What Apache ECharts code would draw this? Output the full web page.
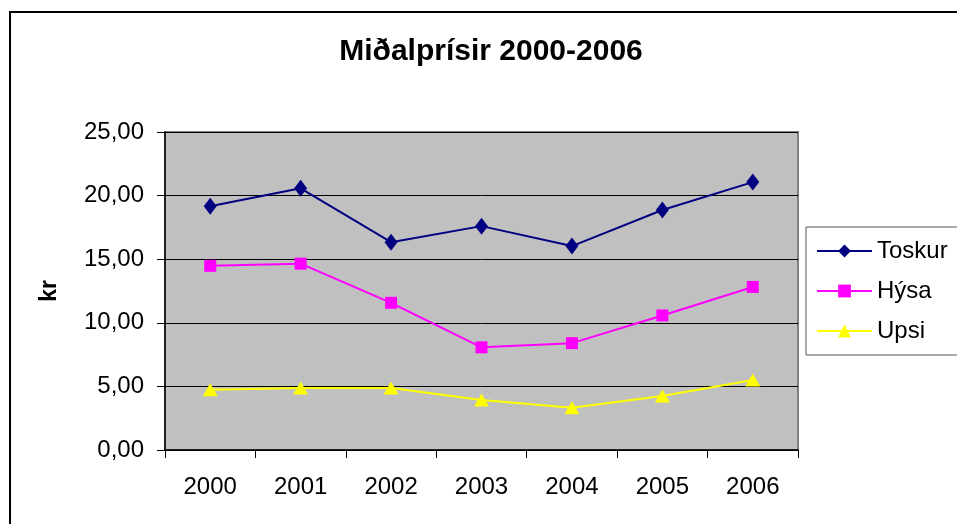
<!DOCTYPE html>
<html>
<head>
<meta charset="utf-8">
<script src="https://cdn.jsdelivr.net/npm/echarts@6/dist/echarts.min.js"></script>
<style>
  html, body { margin: 0; padding: 0; background: #fff; }
  #container { width: 957px; height: 524px; }
</style>
</head>
<body>
<div id="container"></div>
<script>
var years = ['2000', '2001', '2002', '2003', '2004', '2005', '2006'];
var toskur = [19.17, 20.57, 16.34, 17.6, 16.03, 18.87, 21.06];
var hysa = [14.48, 14.65, 11.57, 8.07, 8.4, 10.58, 12.82];
var upsi = [4.74, 4.87, 4.87, 3.93, 3.32, 4.24, 5.5];

var dom = document.getElementById("container");
var myChart = echarts.init(dom);
var font = 'Arial, "Liberation Sans", sans-serif';

function fmt(v) {
    return v.toFixed(2).replace('.', ',');
}

var option = {
    backgroundColor: '#fff',
    animation: false,
    title: {
        text: 'Miðalprísir 2000-2006',
        left: 486,
        textAlign: 'center',
        top: 32,
        textStyle: { fontFamily: font, fontSize: 30, fontWeight: 'bold', color: '#000' }
    },
    graphic: [{
        type: 'rect',
        shape: { x: 10, y: 12, width: 1000, height: 1000 },
        style: { fill: 'none', stroke: '#000', lineWidth: 2 },
        z: -1
    }],
    legend: {
        orient: 'vertical',
        left: 806,
        top: 227,
        padding: [12, 12, 12, 10],
        itemWidth: 55,
        itemHeight: 16,
        itemGap: 16,
        borderColor: '#555',
        borderWidth: 1,
        backgroundColor: '#fff',
        textStyle: { fontFamily: font, fontSize: 24, color: '#000' },
        data: ['Toskur', 'Hýsa', 'Upsi']
    },
    grid: {
        left: 165,
        right: 159,
        top: 132,
        bottom: 74,
        show: true,
        backgroundColor: '#C0C0C0',
        borderColor: '#808080',
        borderWidth: 2
    },
    xAxis: {
        type: 'category',
        data: years,
        boundaryGap: true,
        axisLine: { lineStyle: { color: '#000', width: 1.5 } },
        axisTick: { show: true, length: 8, lineStyle: { color: '#000' } },
        axisLabel: { fontFamily: font, fontSize: 24, color: '#000', margin: 25 }
    },
    yAxis: {
        type: 'value',
        min: 0,
        max: 25,
        interval: 5,
        name: 'kr',
        nameLocation: 'middle',
        nameRotate: 90,
        nameGap: 104,
        nameTextStyle: { fontFamily: font, fontSize: 23, fontWeight: 'bold', color: '#000' },
        axisLine: { show: true, lineStyle: { color: '#000', width: 1.5 } },
        axisTick: { show: true, length: 8, lineStyle: { color: '#000' } },
        axisLabel: { fontFamily: font, fontSize: 24, color: '#000', margin: 21, formatter: fmt },
        splitLine: { lineStyle: { color: '#000', width: 1 } }
    },
    series: [{
        name: 'Toskur',
        type: 'line',
        data: toskur,
        symbol: 'diamond',
        symbolSize: [13, 17],
        color: '#000080',
        lineStyle: { width: 2, color: '#000080' },
        itemStyle: { color: '#000080' }
    }, {
        name: 'Hýsa',
        type: 'line',
        data: hysa,
        symbol: 'rect',
        symbolSize: 12,
        color: '#FF00FF',
        lineStyle: { width: 2, color: '#FF00FF' },
        itemStyle: { color: '#FF00FF' }
    }, {
        name: 'Upsi',
        type: 'line',
        data: upsi,
        symbol: 'triangle',
        symbolSize: [15, 13],
        color: '#FFFF00',
        lineStyle: { width: 2, color: '#FFFF00' },
        itemStyle: { color: '#FFFF00' }
    }]
};

if (option && typeof option === "object") {
    myChart.setOption(option, true);
}
</script>
</body>
</html>
